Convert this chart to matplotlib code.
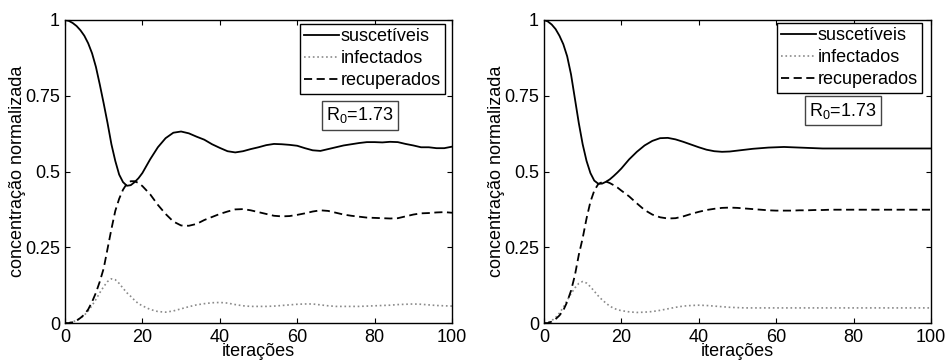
import numpy as np
import matplotlib
matplotlib.use("Agg")
import matplotlib.pyplot as plt

plt.rcParams['font.family'] = ['Liberation Sans', 'DejaVu Sans']
plt.rcParams['font.size'] = 13

# grade de iteracoes (comum aos dois paineis)
x_iter = list(range(0, 21)) + list(range(22, 101, 2))

# painel esquerdo
s_esq = [1.0, 0.997, 0.99, 0.98, 0.966, 0.948, 0.923, 0.89, 0.845, 0.787,
         0.725, 0.66, 0.59, 0.535, 0.49, 0.465, 0.453, 0.455, 0.465, 0.478,
         0.495, 0.54, 0.58, 0.61, 0.628, 0.632, 0.626, 0.615, 0.605, 0.59,
         0.578, 0.567, 0.563, 0.567, 0.574, 0.58, 0.587, 0.591, 0.59, 0.588,
         0.585, 0.577, 0.57, 0.568, 0.574, 0.58, 0.586, 0.59, 0.594, 0.597,
         0.597, 0.596, 0.598, 0.597, 0.591, 0.586, 0.58, 0.58, 0.577, 0.577,
         0.582]
i_esq = [0.0, 0.001, 0.004, 0.009, 0.016, 0.026, 0.04, 0.058, 0.078, 0.1,
         0.12, 0.137, 0.146, 0.143, 0.131, 0.115, 0.1, 0.088, 0.075, 0.064,
         0.057, 0.045, 0.038, 0.036, 0.04, 0.047, 0.054, 0.06, 0.064, 0.067,
         0.068, 0.066, 0.061, 0.057, 0.055, 0.055, 0.055, 0.056, 0.058, 0.06,
         0.062, 0.063, 0.063, 0.06, 0.057, 0.055, 0.055, 0.055, 0.055, 0.056,
         0.057, 0.058, 0.059, 0.061, 0.062, 0.063, 0.062, 0.06, 0.058, 0.057,
         0.056]
r_esq = [0.0, 0.0, 0.003, 0.008, 0.017, 0.028, 0.045, 0.07, 0.1, 0.137,
         0.18, 0.245, 0.31, 0.37, 0.41, 0.44, 0.46, 0.468, 0.468, 0.462,
         0.452, 0.425, 0.39, 0.36, 0.335, 0.322, 0.321, 0.327, 0.34, 0.35,
         0.36, 0.368, 0.375, 0.376, 0.372, 0.366, 0.36, 0.354, 0.352, 0.353,
         0.357, 0.362, 0.368, 0.372, 0.37, 0.364, 0.358, 0.354, 0.351, 0.348,
         0.347, 0.346, 0.345, 0.346, 0.352, 0.358, 0.362, 0.363, 0.365, 0.366,
         0.364]

# painel direito
s_dir = [1.0, 0.995, 0.985, 0.97, 0.948, 0.92, 0.88, 0.82, 0.74, 0.66,
         0.59, 0.535, 0.495, 0.47, 0.46, 0.46, 0.466, 0.474, 0.485, 0.497,
         0.51, 0.54, 0.565, 0.586, 0.601, 0.61, 0.611, 0.606, 0.598, 0.589,
         0.58, 0.572, 0.567, 0.565, 0.566, 0.569, 0.572, 0.575, 0.577, 0.579,
         0.58, 0.581, 0.58, 0.579, 0.578, 0.577, 0.576, 0.576, 0.576, 0.576,
         0.576, 0.576, 0.576, 0.576, 0.576, 0.576, 0.576, 0.576, 0.576, 0.576,
         0.576]
i_dir = [0.0, 0.002, 0.008, 0.018, 0.033, 0.052, 0.075, 0.097, 0.116, 0.131,
         0.137, 0.132, 0.12, 0.105, 0.09, 0.077, 0.066, 0.056, 0.049, 0.044,
         0.041, 0.037, 0.035, 0.036, 0.038, 0.042, 0.047, 0.052, 0.056, 0.058,
         0.059, 0.058, 0.056, 0.054, 0.052, 0.051, 0.05, 0.05, 0.05, 0.05,
         0.05, 0.05, 0.05, 0.05, 0.05, 0.05, 0.05, 0.05, 0.05, 0.05,
         0.05, 0.05, 0.05, 0.05, 0.05, 0.05, 0.05, 0.05, 0.05, 0.05,
         0.05]
r_dir = [0.0, 0.0, 0.005, 0.013, 0.025, 0.042, 0.07, 0.107, 0.158, 0.225,
         0.28, 0.345, 0.4, 0.437, 0.458, 0.465, 0.467, 0.462, 0.455, 0.447,
         0.437, 0.418, 0.395, 0.373, 0.358, 0.349, 0.345, 0.346, 0.352, 0.36,
         0.367, 0.373, 0.377, 0.38, 0.381, 0.38, 0.378, 0.376, 0.374, 0.372,
         0.371, 0.371, 0.371, 0.372, 0.372, 0.373, 0.373, 0.374, 0.374, 0.374,
         0.374, 0.374, 0.374, 0.374, 0.374, 0.374, 0.374, 0.374, 0.374, 0.374,
         0.374]

rotulos = ['suscetíveis', 'infectados', 'recuperados']
r0_texto = r'R$_\mathregular{0}$=1.73'
yticks = [0, 0.25, 0.5, 0.75, 1]
ylabels = ['0', '0.25', '0.5', '0.75', '1']
xticks = [0, 20, 40, 60, 80, 100]


def painel(ax, s, i, r, leg_x, leg_y, box_x, box_y):
    ax.plot(x_iter, s, '-', color='black', lw=1.3, label=rotulos[0])
    ax.plot(x_iter, i, ':', color='#8a8a8a', lw=1.2, label=rotulos[1])
    ax.plot(x_iter, r, color='black', lw=1.3, ls=(0, (4.5, 2.5)), label=rotulos[2])
    ax.set_xlim(0, 100)
    ax.set_ylim(0, 1)
    ax.set_xticks(xticks)
    ax.set_yticks(yticks)
    ax.set_yticklabels(ylabels)
    ax.tick_params(direction='in', top=True, right=True, length=3.5, width=0.8)
    ax.tick_params(axis='x', pad=4)
    for sp in ax.spines.values():
        sp.set_linewidth(1.0)
    ax.set_xlabel('iterações', labelpad=-2)
    ax.set_ylabel('concentração normalizada', labelpad=-1)
    leg = ax.legend(loc='upper right', bbox_to_anchor=(leg_x, leg_y),
                    borderaxespad=0, fancybox=False, framealpha=1,
                    edgecolor='black', handlelength=1.9, handletextpad=0.1,
                    borderpad=0.25, labelspacing=0.28, fontsize=13)
    leg.get_frame().set_linewidth(1.0)
    ax.text(box_x, box_y, r0_texto, transform=ax.transAxes, fontsize=13,
            va='center', ha='left',
            bbox=dict(boxstyle='square,pad=0.25', fc='white', ec='#444444', lw=1.0))


fig = plt.figure(figsize=(9.47, 3.63), dpi=100)
ax1 = fig.add_axes([0.0686, 0.1100, 0.4087, 0.8350])
ax2 = fig.add_axes([0.5744, 0.1100, 0.4087, 0.8350])

painel(ax1, s_esq, i_esq, r_esq, 0.982, 0.988, 0.675, 0.685)
painel(ax2, s_dir, i_dir, r_dir, 0.977, 0.991, 0.685, 0.700)

fig.savefig('out.png', dpi=100)
